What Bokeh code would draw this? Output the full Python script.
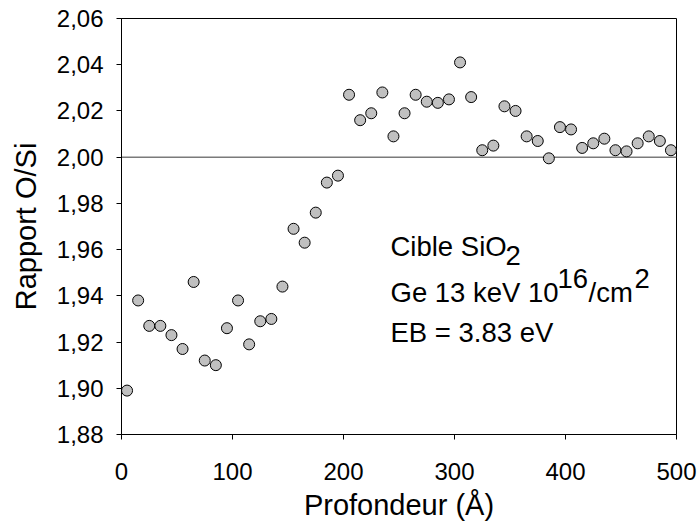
import math
from bokeh.plotting import figure
from bokeh.models import FixedTicker, Span, Label, Range1d, CustomJSTickFormatter
from bokeh.embed import file_html
from bokeh.resources import INLINE

# ---------------- data ----------------
depth = [5, 15, 25, 35, 45, 55, 65, 75, 85, 95,
         105, 115, 125, 135, 145, 155, 165, 175, 185, 195,
         205, 215, 225, 235, 245, 255, 265, 275, 285, 295,
         305, 315, 325, 335, 345, 355, 365, 375, 385, 395,
         405, 415, 425, 435, 445, 455, 465, 475, 485, 495]
ratio = [1.899, 1.938, 1.927, 1.927, 1.923, 1.917, 1.946, 1.912, 1.910, 1.926,
         1.938, 1.919, 1.929, 1.930, 1.944, 1.969, 1.963, 1.976, 1.989, 1.992,
         2.027, 2.016, 2.019, 2.028, 2.009, 2.019, 2.027, 2.024, 2.0235, 2.025,
         2.041, 2.026, 2.003, 2.005, 2.022, 2.020, 2.009, 2.007, 1.9995, 2.013,
         2.012, 2.004, 2.006, 2.008, 2.003, 2.0025, 2.006, 2.009, 2.007, 2.003]

x_ticks = [0, 100, 200, 300, 400, 500]
x_tick_labels = ["0", "100", "200", "300", "400", "500"]
y_ticks = [1.88, 1.90, 1.92, 1.94, 1.96, 1.98, 2.00, 2.02, 2.04, 2.06]
y_tick_labels = ["1,88", "1,90", "1,92", "1,94", "1,96", "1,98", "2,00", "2,02", "2,04", "2,06"]
reference_level = 2.00

x_title = "Profondeur (Å)"
y_title = "Rapport O/Si"
note_line1 = ["Cible SiO", "2"]
note_line2 = ["Ge 13 keV 10", "16", "/cm", "2"]
note_line3 = "EB = 3.83 eV"

# ---------------- layout ----------------
W, H = 699, 528
LEFT, TOP = 121, 18
FW, FH = 555, 416
X0, X1 = 0, 500
Y0, Y1 = 1.88, 2.06
FONT = "Liberation Sans"

# canvas-pixel -> data helpers
def dx(px):
    return X0 + (px - LEFT) * (X1 - X0) / FW

def dy(py):
    return Y1 - (py - TOP) * (Y1 - Y0) / FH

p = figure(width=W, height=H, output_backend="svg", toolbar_location=None,
           x_range=Range1d(X0, X1), y_range=Range1d(Y0, Y1),
           min_border_left=LEFT, min_border_right=W - LEFT - FW,
           min_border_top=TOP, min_border_bottom=H - TOP - FH)

p.background_fill_color = "white"
p.border_fill_color = "white"
p.outline_line_color = "black"
p.outline_line_width = 1
p.outline_line_alpha = 1
p.grid.visible = False

fmt_code = """
const i = tick_values.findIndex(t => Math.abs(t - tick) < 1e-9);
return i >= 0 ? tick_labels[i] : String(tick);
"""
p.xaxis.ticker = FixedTicker(ticks=x_ticks)
p.xaxis.formatter = CustomJSTickFormatter(args=dict(tick_values=x_ticks, tick_labels=x_tick_labels), code=fmt_code)
p.yaxis.ticker = FixedTicker(ticks=y_ticks)
p.yaxis.formatter = CustomJSTickFormatter(args=dict(tick_values=y_ticks, tick_labels=y_tick_labels), code=fmt_code)

for ax in (p.xaxis[0], p.yaxis[0]):
    ax.axis_line_color = "black"
    ax.axis_line_width = 1
    ax.major_tick_line_color = "black"
    ax.major_tick_out = 5
    ax.major_tick_in = 0
    ax.minor_tick_out = 0
    ax.minor_tick_in = 0
    ax.major_label_text_font = FONT
    ax.major_label_text_font_size = "24px"
    ax.major_label_text_color = "black"
    ax.axis_label_text_font = FONT
    ax.axis_label_text_font_size = "29px"
    ax.axis_label_text_font_style = "normal"
    ax.axis_label_text_color = "black"

p.xaxis.axis_label = x_title
p.yaxis.axis_label = y_title
p.xaxis.major_label_standoff = 23
p.yaxis.major_label_standoff = 13
p.xaxis.axis_label_standoff = 6
p.yaxis.axis_label_standoff = 12

p.add_layout(Span(location=reference_level, dimension="width",
                  line_color="#7a7a7a", line_width=1.5, level="underlay"))

p.scatter(depth, ratio, size=11, fill_color="#c0c0c0", line_color="black", line_width=1)

def lab(x, y, text, size):
    p.add_layout(Label(x=x, y=y, text=text, text_font=FONT, text_font_size=size,
                       text_color="black", text_baseline="alphabetic", text_align="left"))

# annotation
NS = "27.5px"
lab(dx(390), dy(246), note_line1[0], NS)
lab(dx(505), dy(255), note_line1[1], NS)
lab(dx(390), dy(292), note_line2[0], NS)
lab(dx(557), dy(278), note_line2[1], NS)
lab(dx(588), dy(292), note_line2[2], NS)
lab(dx(634), dy(278), note_line2[3], NS)
lab(dx(390), dy(332), note_line3, NS)

open("out.html", "w").write(file_html(p, INLINE))
